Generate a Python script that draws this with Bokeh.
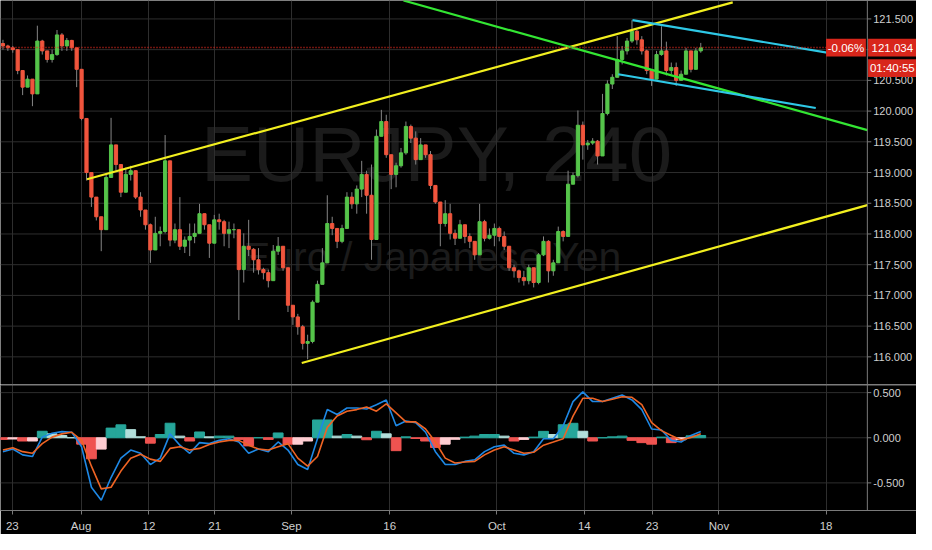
import numpy as np
from bokeh.plotting import figure
from bokeh.layouts import column
from bokeh.models import FixedTicker, Range1d, Span, Label
from bokeh.core.properties import value
from bokeh.embed import file_html
from bokeh.resources import INLINE

# EURJPY, 12h candles (index 0 = left edge, ~Jul 22)
first_open = 121.10
closes = [
    121.06, 121.03, 121.00, 120.66, 120.39, 120.52, 120.28, 121.14, 120.98, 120.84,
    120.92, 121.24, 121.06, 121.15, 121.03, 120.68, 119.88, 119.00, 118.60, 118.28,
    118.07, 118.92, 119.45, 119.13, 118.68, 118.97, 119.03, 118.60, 118.39, 118.15,
    117.74, 118.01, 118.04, 119.19, 117.90, 118.07, 117.80, 117.90, 117.96, 118.01,
    118.33, 118.15, 117.85, 118.23, 118.20, 118.01, 118.07, 118.07,
    117.42, 117.80, 117.75, 117.58, 117.42, 117.37, 117.24, 117.72, 117.80, 117.45,
    116.84, 116.65, 116.49, 116.22, 116.25, 116.89, 117.18, 117.53, 118.17, 118.09,
    117.88, 118.09, 118.60, 118.49, 118.73, 118.97, 118.63, 117.91, 119.59, 119.83,
    119.29, 118.97, 119.11, 119.32, 119.75, 119.56, 119.21, 119.45, 119.29, 118.79,
    118.52, 118.17, 118.33, 118.01, 117.93, 118.15,
    117.96, 117.88, 117.66, 118.20, 117.93, 117.98, 118.09, 117.96, 117.80, 117.45,
    117.40, 117.29, 117.24, 117.45, 117.21, 117.66, 117.88, 117.40, 117.53, 118.04,
    117.96, 118.81, 118.95, 119.77, 119.45, 119.48, 119.51, 119.27, 119.96, 120.44,
    120.55, 120.84, 120.98, 121.14, 121.30, 121.16, 120.98, 120.66, 120.52, 120.92,
    120.98, 120.66, 120.71, 120.50, 120.60, 120.98, 120.68, 120.98, 121.03,
]
highs = [
    121.16, 121.08, 121.06, 120.95, 120.58, 120.58, 120.47, 121.39, 121.16, 120.98,
    121.00, 121.32, 121.27, 121.19, 121.16, 121.03, 120.55, 119.88, 118.92, 118.57,
    118.28, 118.97, 119.89, 119.35, 119.13, 119.08, 119.11, 119.03, 118.68, 118.39,
    118.17, 118.28, 118.12, 119.61, 119.05, 118.17, 118.60, 117.96, 118.17, 118.17,
    118.49, 118.31, 118.12, 118.31, 118.33, 118.23, 118.20, 118.17,
    118.07, 118.01, 118.23, 117.77, 117.77, 117.45, 117.42, 117.82, 117.95, 117.77,
    117.45, 116.84, 116.70, 116.52, 116.36, 116.92, 117.24, 117.77, 118.63, 118.28,
    118.09, 118.15, 118.68, 118.68, 118.79, 119.19, 119.03, 119.13, 119.70, 120.02,
    119.94, 119.27, 119.16, 119.40, 119.83, 119.78, 119.67, 119.56, 119.40, 119.35,
    118.79, 118.39, 118.55, 118.49, 118.07, 118.23,
    118.12, 118.01, 117.85, 118.49, 118.23, 118.09, 118.17, 118.12, 118.04, 117.80,
    117.50, 117.42, 117.40, 117.50, 117.45, 117.69, 117.96, 117.90, 117.58, 118.12,
    118.06, 119.03, 119.00, 120.01, 119.83, 119.53, 119.56, 119.53, 120.28, 120.50,
    120.60, 121.22, 121.06, 121.19, 121.48, 121.32, 121.22, 121.00, 120.68, 120.98,
    121.38, 121.13, 120.79, 120.79, 120.66, 121.03, 120.98, 121.03, 121.11,
]
lows = [
    121.00, 120.98, 120.95, 120.60, 120.26, 120.42, 120.08, 120.31, 120.92, 120.79,
    120.79, 120.90, 120.98, 120.98, 120.98, 120.39, 119.85, 118.87, 118.44, 118.22,
    117.72, 118.07, 118.97, 119.03, 118.60, 118.76, 118.87, 118.57, 118.28, 118.07,
    117.53, 117.85, 117.80, 118.01, 117.80, 117.85, 117.74, 117.69, 117.64, 117.85,
    118.01, 118.07, 117.61, 117.90, 118.07, 117.80, 117.77, 117.93,
    116.60, 117.21, 117.64, 117.37, 117.34, 117.26, 117.13, 117.42, 117.66, 117.40,
    116.73, 116.52, 116.36, 116.12, 115.96, 116.22, 116.89, 117.21, 117.53, 117.98,
    117.77, 117.85, 118.09, 118.41, 118.33, 118.60, 118.33, 117.58, 117.91, 119.61,
    119.24, 118.73, 118.76, 119.08, 119.29, 119.48, 119.13, 119.24, 119.24, 118.73,
    118.49, 117.80, 118.12, 117.91, 117.82, 117.96,
    117.85, 117.77, 117.58, 117.66, 117.88, 117.91, 117.80, 117.88, 117.74, 117.40,
    117.29, 117.21, 117.16, 117.18, 117.13, 117.18, 117.64, 117.21, 117.32, 117.53,
    117.88, 117.96, 118.81, 118.92, 119.21, 119.37, 119.45, 119.13, 119.27, 119.93,
    120.36, 120.55, 120.76, 120.92, 121.11, 121.08, 120.92, 120.60, 120.41, 120.52,
    120.90, 120.58, 120.60, 120.41, 120.50, 120.63, 120.63, 120.76, 120.95,
]

# MACD (12, 26, 9), read every second candle
macd_line = [
    -0.154, -0.125, -0.190, -0.208, 0.007, 0.050, 0.068, 0.061, -0.100, -0.548,
    -0.692, -0.441, -0.226, -0.136, -0.172, -0.297, -0.226, 0.043, -0.082, -0.172,
    -0.054, -0.065, -0.029, -0.011, -0.047, -0.172, -0.125, -0.154, -0.047, -0.136,
    -0.297, -0.351, -0.011, 0.312, 0.258, 0.330,
    0.330, 0.319, 0.366, 0.419, 0.133, 0.186, 0.168, 0.061, -0.154, -0.297,
    -0.297, -0.262, -0.244, -0.154, -0.100, -0.082, -0.172, -0.190, -0.154, -0.011,
    -0.011, 0.133, 0.400, 0.509, 0.401, 0.401, 0.437, 0.473, 0.419, 0.312,
    0.097, 0.086, -0.029, -0.047, 0.025, 0.068,
]
signal_line = [
    -0.136, -0.111, -0.154, -0.172, -0.065, 0.007, 0.043, 0.061, -0.029, -0.315,
    -0.566, -0.548, -0.369, -0.226, -0.183, -0.237, -0.262, -0.118, -0.100, -0.136,
    -0.118, -0.075, -0.047, -0.029, -0.029, -0.082, -0.125, -0.136, -0.100, -0.065,
    -0.226, -0.315, -0.208, 0.115, 0.240, 0.294,
    0.312, 0.341, 0.294, 0.376, 0.276, 0.176, 0.176, 0.097, -0.047, -0.226,
    -0.280, -0.269, -0.262, -0.190, -0.136, -0.100, -0.136, -0.172, -0.161, -0.082,
    -0.047, -0.011, 0.240, 0.437, 0.437, 0.401, 0.427, 0.455, 0.448, 0.366,
    0.168, 0.079, 0.025, -0.025, 0.004, 0.043,
]

# time axis (candle index units)
date_ticks = [1.9, 15.9, 29.7, 43.1, 58.7, 78.7, 100.5, 118.3, 132.1, 145.7, 167.5]
date_labels = ["23", "Aug", "12", "21", "Sep", "16", "Oct", "14", "23", "Nov", "18"]
price_ticks = [116.0, 116.5, 117.0, 117.5, 118.0, 118.5, 119.0, 119.5,
               120.0, 120.5, 121.0, 121.5]
macd_ticks = [-0.5, 0.0, 0.5]

# drawn trend lines
trend_x0 = [17.1, 60.8, 81.5, 128.1, 125.2]
trend_y0 = [118.89, 115.90, 121.80, 121.48, 120.60]
trend_x1 = [148.5, 175.9, 175.9, 168.6, 165.4]
trend_y1 = [121.77, 118.47, 119.69, 120.94, 120.05]
trend_colors = ["#f2ef1f", "#f2ef1f", "#33e633", "#2ec8e6", "#2ec8e6"]

last_price = 121.034
change_text = "-0.06%"
countdown = "01:40:55"
countdown_at = 120.70

FONT = "'Liberation Sans', sans-serif"
TXT = "#cfcfcf"
GRID = "#2e2e2e"
AXIS = "#7a7a7a"
UP = "#55c44a"
DOWN = "#f0553d"
RED = "#d8261b"
W = 916
X0, XEND = -0.5, 185.9     # full page width
XAX = 175.9                # price scale sits right of this index
TAG_H = 0.145              # half height of a price tag, in yen

closes_a = np.array(closes)
opens_a = np.array([first_open] + closes[:-1])
idx = np.arange(len(closes))
top_w = np.maximum(np.array(highs), np.maximum(opens_a, closes_a))
bot_w = np.minimum(np.array(lows), np.minimum(opens_a, closes_a))
up = closes_a >= opens_a


def price_scale(p, ticks, fmt, skip=None):
    # grid lines stop at the scale, labels to the right of it
    p.segment([X0] * len(ticks), ticks, [XAX] * len(ticks), ticks,
              color=GRID, line_width=1, level="underlay")
    p.segment([XAX] * len(ticks), ticks, [XAX + 0.8] * len(ticks), ticks,
              color=AXIS, line_width=1)
    shown = [t for t in ticks if skip is None or abs(t - skip) > 0.15]
    p.text(x=[XAX + 1.2] * len(shown), y=shown, text=[fmt % t for t in shown],
           text_color=TXT, text_font=value(FONT), text_font_size="11px",
           text_baseline="middle", text_align="left")
    p.add_layout(Span(location=XAX, dimension="height", line_color=AXIS, line_width=1))


p1 = figure(width=W, height=384, x_range=Range1d(X0, XEND), y_range=Range1d(115.55, 121.80),
            output_backend="svg", toolbar_location=None,
            x_axis_location=None, y_axis_location=None,
            background_fill_color="black", border_fill_color="black",
            min_border_left=0, min_border_right=0, min_border_top=0, min_border_bottom=0)
p1.outline_line_color = None
p1.xgrid.ticker = FixedTicker(ticks=date_ticks)
p1.xgrid.grid_line_color = GRID
p1.ygrid.visible = False

wm1 = Label(x=436, y=231, x_units="screen", y_units="screen", text="EURJPY, 240",
            text_font=FONT, text_font_size="78px", text_color="#1b1b1b",
            text_align="center", text_baseline="alphabetic", level="image")
wm2 = Label(x=432, y=128, x_units="screen", y_units="screen", text="Euro / Japanese Yen",
            text_font=FONT, text_font_size="41px", text_color="#1b1b1b",
            text_align="center", text_baseline="alphabetic", level="image")
p1.add_layout(wm1)
p1.add_layout(wm2)

price_scale(p1, price_ticks, "%.3f", skip=last_price)

p1.segment(idx, top_w, idx, bot_w, color="#858585", line_width=1)
p1.vbar(x=idx[up], width=0.65, top=closes_a[up], bottom=opens_a[up],
        fill_color=UP, line_color=UP)
p1.vbar(x=idx[~up], width=0.65, top=opens_a[~up], bottom=closes_a[~up],
        fill_color=DOWN, line_color=DOWN)

p1.segment(trend_x0, trend_y0, trend_x1, trend_y1, color=trend_colors, line_width=2.2)

p1.segment([X0], [last_price], [XAX], [last_price], color="#e0281e",
           line_dash="1 2", line_width=1.5)

# price tags: change on the chart side, last price and countdown on the scale
tag_left = [XAX - 8.4, XAX + 0.15, XAX + 0.15]
tag_right = [XAX - 0.3, XEND, XEND]
tag_mid = [last_price, last_price, countdown_at]
tag_text = [change_text, "%.3f" % last_price, countdown]
p1.quad(left=tag_left, right=tag_right,
        top=[m + TAG_H for m in tag_mid], bottom=[m - TAG_H for m in tag_mid],
        fill_color=RED, line_color=None)
p1.text(x=[(a + b) / 2 for a, b in zip(tag_left, tag_right)], y=tag_mid, text=tag_text,
        text_color="white", text_font=value(FONT), text_font_size="11.5px",
        text_align="center", text_baseline="middle")

# MACD panel
mx = np.arange(0, 2 * len(macd_line), 2)
hist = np.array(macd_line) - np.array(signal_line)
hist_colors = []
for k, h in enumerate(hist):
    prev = hist[k - 1] if k > 0 else 0.0
    if h >= 0:
        hist_colors.append("#26a69a" if h >= prev else "#b2dfdb")
    else:
        hist_colors.append("#ef5350" if h < prev else "#ffcdd2")

p2 = figure(width=W, height=150, x_range=p1.x_range, y_range=Range1d(-0.806, 0.59),
            output_backend="svg", toolbar_location=None, y_axis_location=None,
            background_fill_color="black", border_fill_color="black",
            min_border_left=0, min_border_right=0, min_border_top=0)
p2.outline_line_color = None
p2.ygrid.visible = False
p2.xgrid.grid_line_color = GRID
p2.add_layout(Span(location=0.59, dimension="width", line_color=AXIS, line_width=2))
price_scale(p2, macd_ticks, "%.3f")
p2.vbar(x=mx, width=2, top=hist, bottom=0, fill_color=hist_colors, line_color=hist_colors)
p2.line(mx, macd_line, color="#1e88e5", line_width=1.6)
p2.line(mx, signal_line, color="#ef6424", line_width=1.6)

p2.xaxis.ticker = FixedTicker(ticks=date_ticks)
p2.xaxis.major_label_overrides = dict(zip(date_ticks, date_labels))
ax = p2.xaxis[0]
ax.axis_line_color = AXIS
ax.major_tick_line_color = AXIS
ax.major_tick_out = 4
ax.major_tick_in = 0
ax.minor_tick_line_color = None
ax.major_label_text_color = TXT
ax.major_label_text_font = FONT
ax.major_label_text_font_size = "11.5px"
ax.major_label_standoff = 5

layout = column(p1, p2, spacing=0)
open("out.html", "w").write(file_html(layout, INLINE))
